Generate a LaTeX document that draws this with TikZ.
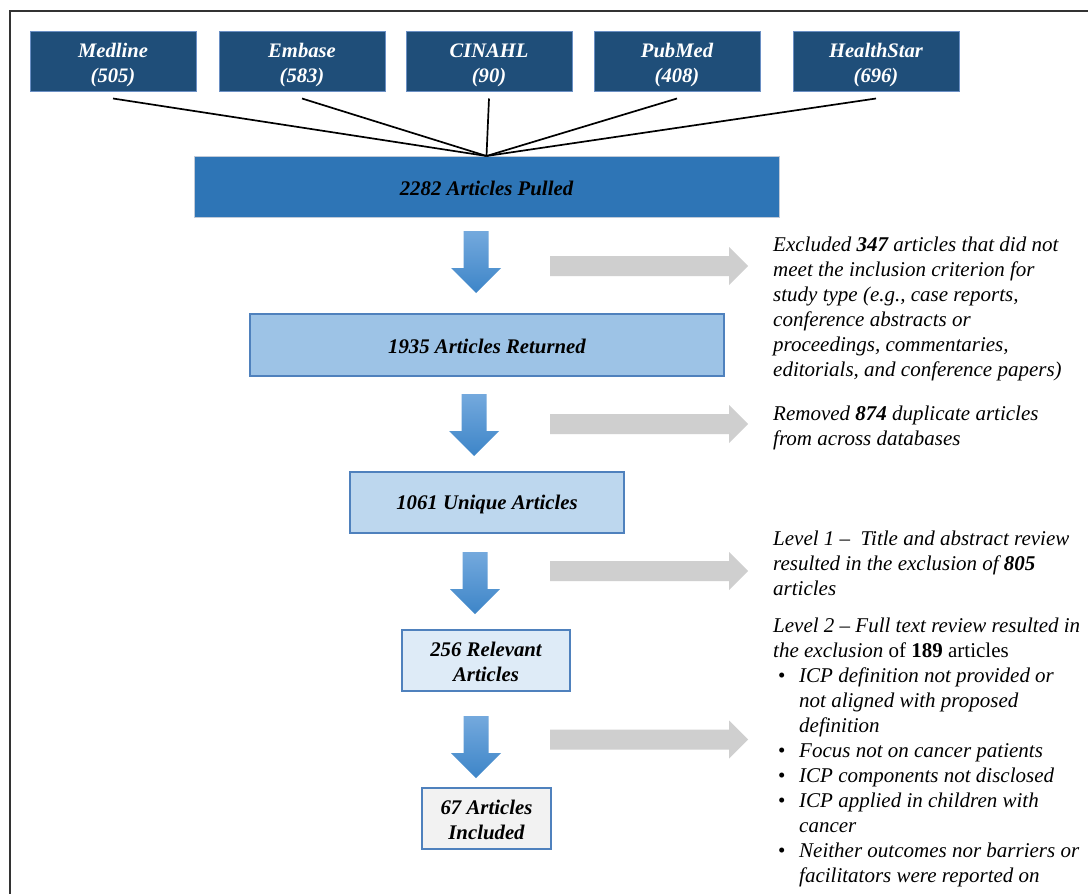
\documentclass[tikz,border=0pt]{standalone}
\usepackage{fontspec}
\setmainfont{Liberation Serif}
\definecolor{navy}{HTML}{1F4E79}
\definecolor{dbborder}{HTML}{6A8FC4}
\definecolor{pulledfill}{HTML}{2E75B6}
\definecolor{pulledborder}{HTML}{C0CAD8}
\definecolor{retfill}{HTML}{9DC3E6}
\definecolor{uniqfill}{HTML}{BDD7EE}
\definecolor{relfill}{HTML}{DEEBF7}
\definecolor{incfill}{HTML}{F2F2F2}
\definecolor{stageborder}{HTML}{4F81BD}
\definecolor{arrtop}{HTML}{74A9DD}
\definecolor{arrbot}{HTML}{3D85C8}
\definecolor{grayarr}{HTML}{CFCFCF}
\definecolor{framecol}{HTML}{333333}
\newcommand{\bulitem}{\makebox[26pt][l]{\hspace{5pt}\upshape\textbullet}}
\newcommand{\contind}{\hspace*{26pt}}
\newcommand{\toppad}{\rule{0pt}{22pt}}
\begin{document}
\begin{tikzpicture}[x=1pt,y=-1pt,
  db/.style={draw=dbborder, fill=navy, line width=1pt, minimum width=166pt, minimum height=60pt,
    inner sep=0pt, align=center, text=white, font=\fontsize{20.6}{25}\selectfont\bfseries\itshape},
  stage/.style={draw=stageborder, line width=1.5pt, inner sep=0pt, align=center,
    font=\fontsize{20.8}{25}\selectfont\bfseries\itshape},
  note/.style={anchor=north west, inner sep=0pt, align=left, font=\fontsize{21}{25}\selectfont\itshape},
  conn/.style={draw=black, line width=1.7pt},
  downarr/.pic={\shade[top color=arrtop, bottom color=arrbot]
    (-12.5,0) -- (12.5,0) -- (12.5,37) -- (25,37) -- (0,62) -- (-25,37) -- (-12.5,37) -- cycle;},
  rightarr/.pic={\fill[grayarr]
    (0,-10) -- (179,-10) -- (179,-19) -- (198,0) -- (179,19) -- (179,10) -- (0,10) -- cycle;}
]
\useasboundingbox (0,0) rectangle (1088,894);
\fill[white] (0,0) rectangle (1088,894);
% frame
\draw[framecol, line width=1.5pt] (10,900) -- (10,11) -- (1095,11);

% databases
\node[db] (m) at (113,61) {\toppad Medline\\(505)};
\node[db] (e) at (302,61) {\toppad Embase\\(583)};
\node[db] (c) at (489,61) {\toppad CINAHL\\(90)};
\node[db] (p) at (677,61) {\toppad PubMed\\(408)};
\node[db] (h) at (876,61) {\toppad HealthStar\\(696)};

% stages
\node[stage, draw=pulledborder, line width=1pt, fill=pulledfill, minimum width=585pt, minimum height=61pt] (pulled) at (486.5,187) {\rule{0pt}{18pt}2282 Articles Pulled};
\node[stage, fill=retfill, minimum width=474pt, minimum height=62pt] (returned) at (487,345) {\rule{0pt}{18pt}1935 Articles Returned};
\node[stage, fill=uniqfill, minimum width=274pt, minimum height=61pt] (unique) at (487,502.5) {\rule{0pt}{18pt}1061 Unique Articles};
\node[stage, fill=relfill, minimum width=168pt, minimum height=61pt] (relevant) at (486,660.5) {\rule{0pt}{18pt}256 Relevant\\Articles};
\node[stage, fill=incfill, minimum width=129pt, minimum height=61pt] (included) at (486.5,818.5) {\rule{0pt}{18pt}67 Articles\\Included};

% connectors
\foreach \n in {m,e,c,p,h} \draw[conn] ([yshift=-7pt]\n.south) -- (pulled.north);

% block arrows
\pic at (476,231) {downarr};
\pic at (474,394) {downarr};
\pic at (475,552) {downarr};
\pic at (476,716) {downarr};
\pic at (550,266) {rightarr};
\pic at (550,424) {rightarr};
\pic at (550,571) {rightarr};
\pic at (550,739.5) {rightarr};

% notes
\node[note] (n1) at (773,236.5) {Excluded \textbf{347} articles that did not\\
meet the inclusion criterion for\\
study type (e.g., case reports,\\
conference abstracts or\\
proceedings, commentaries,\\
editorials, and conference papers)};
\node[note] (n2) at (773,405.5) {Removed \textbf{874} duplicate articles\\
from across databases};
\node[note] (n3) at (773,530.5) {Level 1 --\ \ Title and abstract review\\
resulted in the exclusion of \textbf{805}\\
articles};
\node[note] (n4) at (773,617.5) {Level 2 -- Full text review resulted in\\
the exclusion {\upshape of \textbf{189} articles}\\
\bulitem ICP definition not provided or\\
\contind not aligned with proposed\\
\contind definition\\
\bulitem Focus not on cancer patients\\
\bulitem ICP components not disclosed\\
\bulitem ICP applied in children with\\
\contind cancer\\
\bulitem Neither outcomes nor barriers or\\
\contind facilitators were reported on};
\end{tikzpicture}
\end{document}
